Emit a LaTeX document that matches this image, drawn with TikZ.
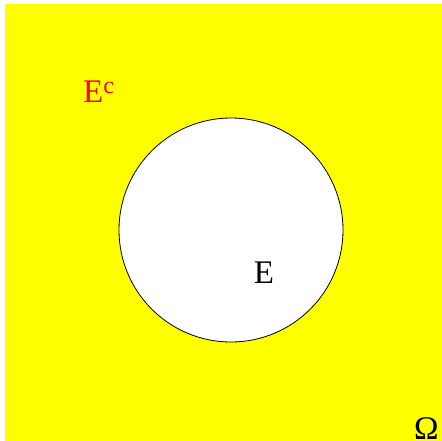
\documentclass[tikz,border=0pt]{standalone}
\usepackage{fontspec}
\setmainfont{Liberation Serif}
\definecolor{yel}{RGB}{255,255,0}
\definecolor{rd}{RGB}{255,0,0}
\begin{document}
\begin{tikzpicture}[x=1pt,y=-1pt,
  lbl/.style={inner sep=0pt, font=\fontsize{33}{36}\selectfont}]
\useasboundingbox (0,0) rectangle (442,441);
\clip (0,0) rectangle (442,441);
\fill[white] (0,0) rectangle (442,441);
\fill[yel] (5,4) rectangle (442,441);
\draw[fill=white, line width=0.8pt] (231,230) circle[radius=112];
\node[lbl, text=rd, anchor=base west] (ec) at (83,103) {E\raisebox{9pt}{\fontsize{24}{26}\selectfont c}};
\node[lbl] (e) at (264,273) {E};
\node[lbl, anchor=base west] (om) at (414,439) {Ω};
\end{tikzpicture}
\end{document}
